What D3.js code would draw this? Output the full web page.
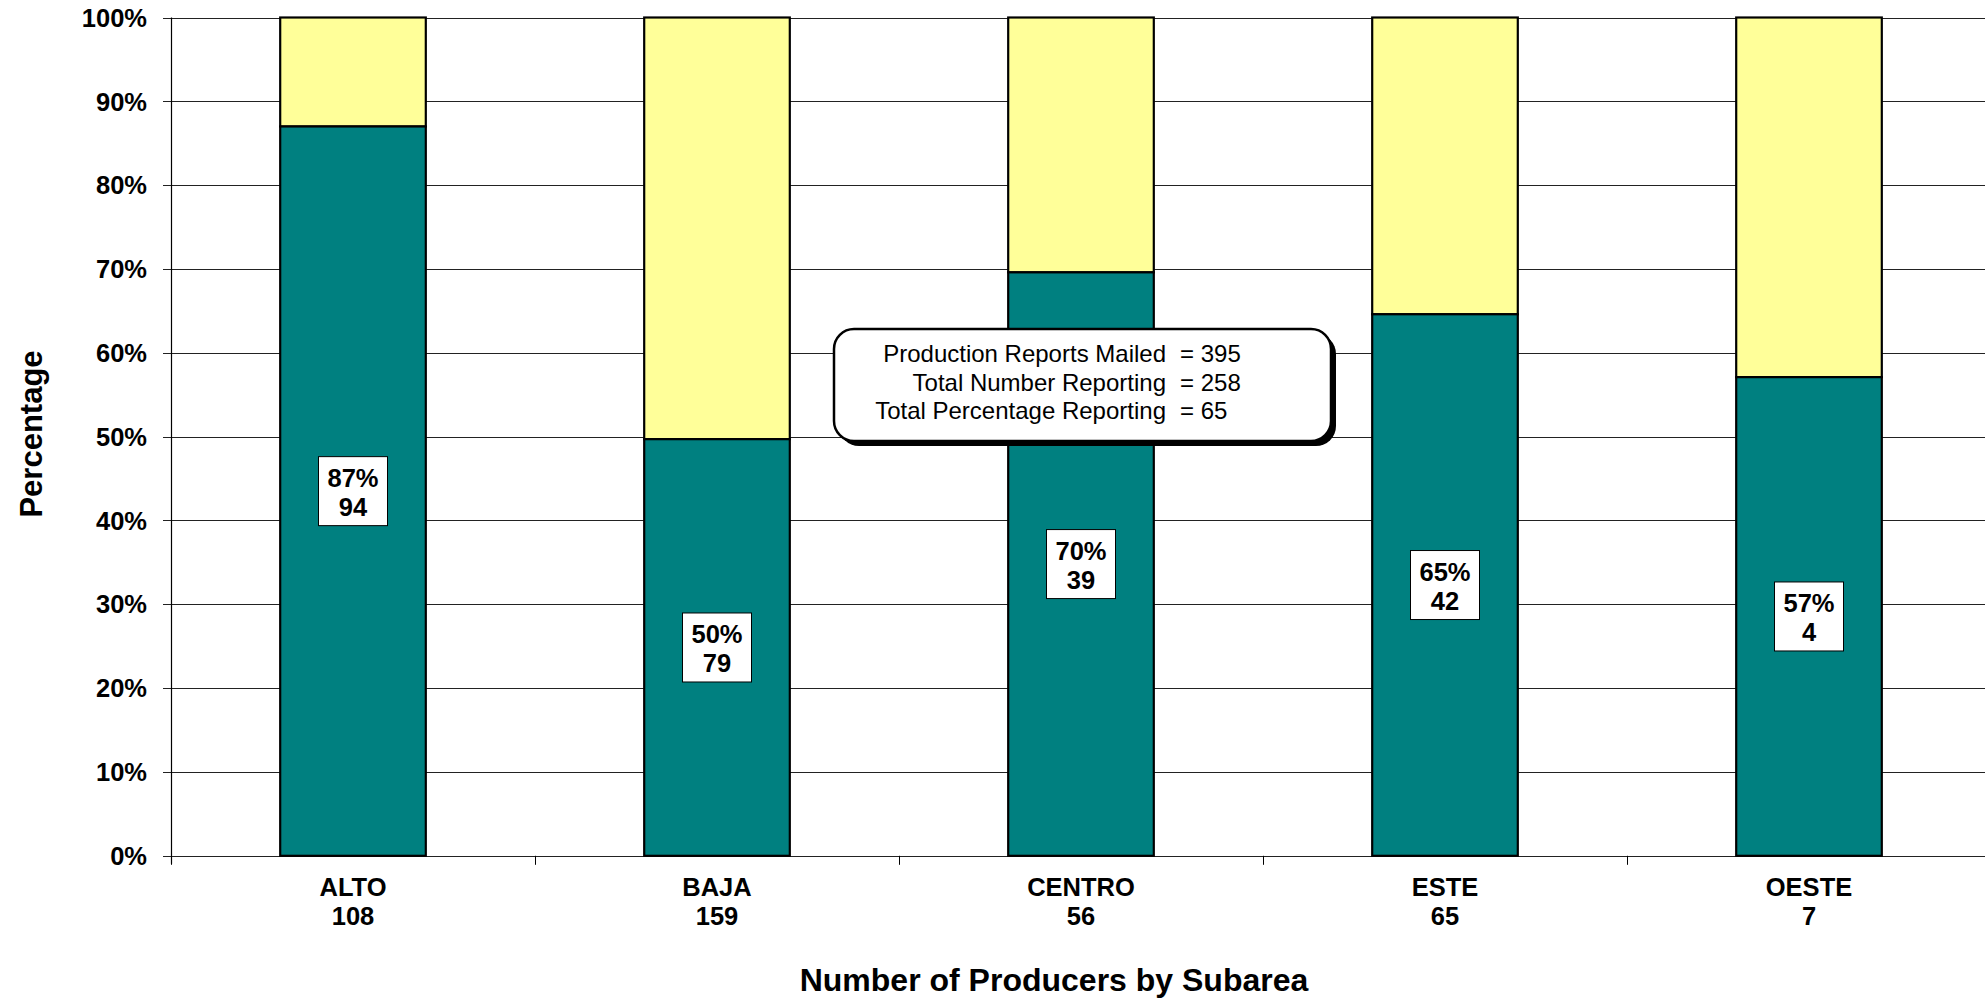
<!DOCTYPE html>
<html>
<head>
<meta charset="utf-8">
<script src="https://cdn.jsdelivr.net/npm/d3@7"></script>
<style>
  html, body { margin: 0; padding: 0; background: #fff; }
  svg { display: block; }
  text { font-family: "Liberation Sans", Arial, sans-serif; }
</style>
</head>
<body>
<script>
// ---- data ----
const categories = ["ALTO", "BAJA", "CENTRO", "ESTE", "OESTE"];
const producers = [108, 159, 56, 65, 7];
const reporting = [94, 79, 39, 42, 4];
const pctReporting = [87.0, 49.7, 69.6, 64.6, 57.1];
const pctLabels = ["87%", "50%", "70%", "65%", "57%"];
const yTicks = [0, 10, 20, 30, 40, 50, 60, 70, 80, 90, 100];
const noteLabels = ["Production Reports Mailed", "Total Number Reporting", "Total Percentage Reporting"];
const noteValues = ["= 395", "= 258", "= 65"];

const W = 1985, H = 999;
const svg = d3.select("body").append("svg").attr("width", W).attr("height", H);

const x = d3.scaleBand().domain(categories).range([171, 1991]).padding(0);
const y = d3.scaleLinear().domain([0, 100]).range([855.8, 17.5]);
const barW = x.bandwidth() * 0.4;

// gridlines
svg.append("g").selectAll("line").data(yTicks).join("line")
  .attr("x1", 163).attr("x2", W)
  .attr("y1", d => Math.round(y(d)) + 0.5).attr("y2", d => Math.round(y(d)) + 0.5)
  .attr("stroke", "#222").attr("stroke-width", 1);

// y tick labels
svg.append("g").selectAll("text").data(yTicks).join("text")
  .attr("x", 147).attr("y", d => y(d)).attr("dy", "0.36em")
  .attr("text-anchor", "end").attr("font-weight", "bold").attr("font-size", 25.5)
  .text(d => d + "%");

// y axis line
svg.append("line").attr("x1", 171.5).attr("x2", 171.5).attr("y1", y(100)).attr("y2", y(0) + 8)
  .attr("stroke", "#000").attr("stroke-width", 1.2);

// x axis ticks at band boundaries
const bounds = categories.map(c => x(c)).concat([x.range()[1]]);
svg.append("g").selectAll("line").data(bounds).join("line")
  .attr("x1", d => Math.round(d) + 0.5).attr("x2", d => Math.round(d) + 0.5)
  .attr("y1", y(0)).attr("y2", y(0) + 9)
  .attr("stroke", "#000").attr("stroke-width", 1);

// bars
const rows = categories.map((c, i) => ({ c, p: pctReporting[i], i }));
const bars = svg.append("g");
bars.selectAll("rect.rest").data(rows).join("rect").attr("class", "rest")
  .attr("x", d => x(d.c) + (x.bandwidth() - barW) / 2)
  .attr("y", y(100)).attr("width", barW).attr("height", d => y(d.p) - y(100))
  .attr("fill", "#FFFF99").attr("stroke", "#000").attr("stroke-width", 2.2);
bars.selectAll("rect.rep").data(rows).join("rect").attr("class", "rep")
  .attr("x", d => x(d.c) + (x.bandwidth() - barW) / 2)
  .attr("y", d => y(d.p)).attr("width", barW).attr("height", d => y(0) - y(d.p))
  .attr("fill", "#008080").attr("stroke", "#000").attr("stroke-width", 2.2);

// data labels
const lab = svg.append("g").selectAll("g").data(rows).join("g")
  .attr("transform", d => `translate(${x(d.c) + x.bandwidth() / 2},${y(d.p / 2)})`);
lab.append("rect").attr("x", -34.5).attr("y", -34.5).attr("width", 69).attr("height", 69)
  .attr("fill", "#fff").attr("stroke", "#000").attr("stroke-width", 1);
lab.append("text").attr("y", -4.5).attr("text-anchor", "middle")
  .attr("font-weight", "bold").attr("font-size", 25.5).text(d => pctLabels[d.i]);
lab.append("text").attr("y", 24.5).attr("text-anchor", "middle")
  .attr("font-weight", "bold").attr("font-size", 25.5).text(d => reporting[d.i]);

// category labels
const cl = svg.append("g").selectAll("g").data(rows).join("g")
  .attr("transform", d => `translate(${x(d.c) + x.bandwidth() / 2},0)`);
cl.append("text").attr("y", 896).attr("text-anchor", "middle")
  .attr("font-weight", "bold").attr("font-size", 25.5).text(d => d.c);
cl.append("text").attr("y", 925).attr("text-anchor", "middle")
  .attr("font-weight", "bold").attr("font-size", 25.5).text(d => producers[d.i]);

// axis titles
svg.append("text").attr("x", 1054).attr("y", 991).attr("text-anchor", "middle")
  .attr("font-weight", "bold").attr("font-size", 32).text("Number of Producers by Subarea");
svg.append("text").attr("transform", "translate(42,434) rotate(-90)").attr("text-anchor", "middle")
  .attr("font-weight", "bold").attr("font-size", 31).text("Percentage");

// note box
const nb = svg.append("g");
nb.append("rect").attr("x", 839).attr("y", 334).attr("width", 497).attr("height", 112)
  .attr("rx", 20).attr("fill", "#000");
nb.append("rect").attr("x", 834).attr("y", 329).attr("width", 497).attr("height", 112)
  .attr("rx", 20).attr("fill", "#fff").attr("stroke", "#000").attr("stroke-width", 2.5);
const noteY = [362, 391, 419];
nb.selectAll("text.l").data(noteLabels).join("text").attr("class", "l")
  .attr("x", 1166).attr("y", (d, i) => noteY[i]).attr("text-anchor", "end")
  .attr("font-size", 24).text(d => d);
nb.selectAll("text.v").data(noteValues).join("text").attr("class", "v")
  .attr("x", 1180).attr("y", (d, i) => noteY[i]).attr("text-anchor", "start")
  .attr("font-size", 24).text(d => d);
</script>
</body>
</html>
